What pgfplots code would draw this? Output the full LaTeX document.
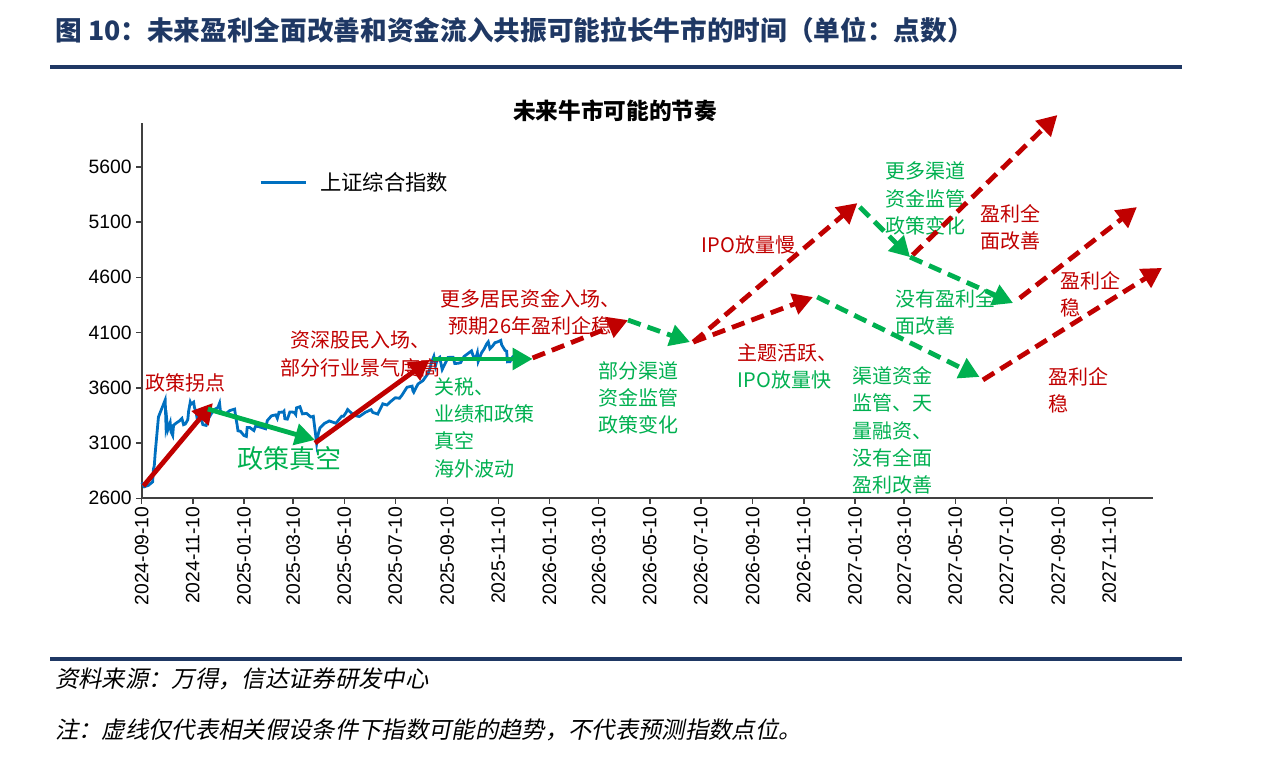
\documentclass[border=0pt]{standalone}
\usepackage{fontspec}
\setmainfont{Liberation Sans}
\newfontfamily\cjk{Noto Sans CJK SC}
\newfontfamily\cjkit{Noto Sans CJK SC}[FakeSlant=0.2]
\usepackage{pgfplots}
\pgfplotsset{compat=1.18}
\usetikzlibrary{arrows.meta}

\definecolor{zred}{RGB}{192,0,0}
\definecolor{zgreen}{RGB}{0,176,80}
\definecolor{zblue}{RGB}{0,112,192}
\definecolor{navy}{RGB}{31,56,100}

\newcommand\annot{\cjk\fontsize{15}{20.5}\selectfont}

\pgfplotsset{
  arr/.style={line width=3.6pt, -{Triangle[length=15pt,width=16pt]}, forget plot},
  dsh/.style={dash pattern=on 10pt off 5.5pt},
}

% Shanghai Composite, days since 2024-09-10
\pgfplotstableread{
d v
0 2744
3 2704
8 2717
13 2748
14 2863
15 2896
16 3000
17 3087
20 3336
28 3489
29 3258
30 3301
31 3217
34 3284
35 3202
37 3169
38 3261
42 3285
45 3300
48 3322
50 3266
52 3272
55 3310
56 3387
58 3470
59 3452
62 3470
63 3421
65 3379
66 3331
70 3346
73 3267
77 3259
80 3326
83 3364
87 3404
91 3422
93 3461
94 3391
98 3361
101 3368
105 3393
108 3400
111 3407
112 3352
114 3262
115 3211
118 3206
122 3169
125 3160
126 3241
129 3241
134 3213
136 3252
139 3250
148 3229
150 3303
155 3346
160 3355
162 3324
164 3379
169 3380
170 3388
171 3320
174 3316
177 3381
182 3379
184 3358
185 3419
189 3429
192 3364
197 3368
202 3336
205 3342
209 3097
210 3145
211 3186
213 3238
218 3276
224 3300
232 3279
239 3343
241 3342
244 3374
246 3403
251 3368
255 3348
260 3340
267 3377
274 3402
276 3377
282 3362
288 3455
293 3444
297 3473
303 3510
308 3505
311 3534
315 3582
317 3605
323 3615
324 3573
325 3560
330 3634
336 3665
339 3697
342 3728
344 3766
346 3826
349 3884
351 3800
353 3858
356 3876
359 3766
363 3827
366 3875
372 3876
374 3820
378 3822
381 3828
385 3883
394 3934
396 3889
399 3865
401 3916
402 3839
406 3917
409 3950
412 3996
414 4016
416 3954
419 3976
422 4008
426 4018
429 4029
430 3990
434 3939
436 3931
437 3835
440 3836
442 3865
444 3889
}\szdata

\begin{document}
\begin{tikzpicture}
\path[use as bounding box] (0,0) rectangle (960pt,574.5pt);

\begin{axis}[
  at={(106.3pt,200.8pt)}, anchor=south west,
  scale only axis, width=758.3pt, height=281.7pt,
  clip=false,
  xmin=0, xmax=1208, ymin=2600, ymax=6000,
  axis x line=bottom, axis y line=left,
  axis line style={black!75, line width=1.3pt, -},
  tick style={black!75, line width=1.1pt},
  tick align=outside, major tick length=4pt,
  xtick={0,61,122,181,242,303,365,426,487,546,607,668,730,791,852,911,972,1033,1095,1156},
  xticklabels={2024-09-10,2024-11-10,2025-01-10,2025-03-10,2025-05-10,2025-07-10,2025-09-10,2025-11-10,2026-01-10,2026-03-10,2026-05-10,2026-07-10,2026-09-10,2026-11-10,2027-01-10,2027-03-10,2027-05-10,2027-07-10,2027-09-10,2027-11-10},
  x tick label style={rotate=90, anchor=east, inner sep=2pt},
  ytick={2600,3100,3600,4100,4600,5100,5600},
  /pgf/number format/assume math mode=true,
  /pgf/number format/1000 sep={},
  ticklabel style={font=\fontsize{14.5}{17}\selectfont},
  legend style={at={(0.116,0.84)}, anchor=west, draw=none, fill=none,
    font=\cjk\fontsize{16}{18}\selectfont, inner sep=0pt},
  legend image code/.code={\draw[#1] (0pt,0pt) -- (34pt,0pt);},
]
\addplot[zblue, line width=2.1pt] table[x=d, y=v] {\szdata};
\addlegendentry{\hspace{7.5pt}上证综合指数}

% annotations
\node[anchor=west, text=zred, font=\annot, inner sep=0pt] at (axis cs:4,3643) {政策拐点};
\node[anchor=west, text=zgreen, font=\cjk\fontsize{19.5}{22}\selectfont, inner sep=0pt] at (axis cs:114,2956) {政策真空};
\node[align=center, text=zred, font=\annot] at (axis cs:261,3906) {资深股民入场、\\部分行业景气度高};
\node[align=center, text=zred, font=\annot] at (axis cs:464,4281) {更多居民资金入场、\\预期26年盈利企稳};
\node[anchor=west, align=left, text=zgreen, font=\annot, inner sep=0pt] at (axis cs:350,3241) {关税、\\业绩和政策\\真空\\海外波动};
\node[anchor=west, align=left, text=zgreen, font=\annot, inner sep=0pt] at (axis cs:545,3508) {部分渠道\\资金监管\\政策变化};
\node[anchor=west, text=zred, font=\annot, inner sep=0pt] at (axis cs:669,4892) {IPO放量慢};
\node[anchor=west, text=zred, font=\annot, inner sep=0pt] at (axis cs:712,3915) {主题活跃、};
\node[anchor=west, text=zgreen, font=\annot, inner sep=0pt] at (axis cs:712,3671) {IPO放量快};
\node[anchor=west, align=left, text=zgreen, font=\annot, inner sep=0pt] at (axis cs:888,5313) {更多渠道\\资金监管\\政策变化};
\node[anchor=west, align=left, text=zred, font=\annot, inner sep=0pt] at (axis cs:1002,5055) {盈利全\\面改善};
\node[anchor=west, align=left, text=zgreen, font=\annot, inner sep=0pt] at (axis cs:900,4286) {没有盈利全\\面改善};
\node[anchor=west, align=left, text=zred, font=\annot, inner sep=0pt] at (axis cs:1097,4444) {盈利企\\稳};
\node[anchor=west, align=left, text=zgreen, font=\annot, inner sep=0pt] at (axis cs:849,3214) {渠道资金\\监管、天\\量融资、\\没有全面\\盈利改善};
\node[anchor=west, align=left, text=zred, font=\annot, inner sep=0pt] at (axis cs:1083,3576) {盈利企\\稳};

% past path (solid)
\addplot[arr, zred] coordinates {(2,2711) (85,3462)};
\addplot[arr, zgreen] coordinates {(79,3408) (207,3128)};
\addplot[arr, zred] coordinates {(207,3100) (344,3852)};
\addplot[arr, zgreen] coordinates {(348,3861) (467,3861)};
% scenarios (dashed)
\addplot[arr, dsh, zred] coordinates {(467,3870) (581,4213)};
\addplot[arr, dsh, zgreen] coordinates {(581,4213) (655,4014)};
\addplot[arr, dsh, zred] coordinates {(659,4014) (855,5272)};
\addplot[arr, dsh, zred] coordinates {(659,4014) (802,4422)};
\addplot[arr, dsh, zgreen] coordinates {(858,5236) (918,4783)};
\addplot[arr, dsh, zred] coordinates {(921,4802) (1094,6069)};
\addplot[arr, dsh, zgreen] coordinates {(918,4783) (1041,4367)};
\addplot[arr, dsh, zred] coordinates {(1049,4412) (1189,5236)};
\addplot[arr, dsh, zgreen] coordinates {(807,4422) (1001,3698)};
\addplot[arr, dsh, zred] coordinates {(1005,3671) (1219,4685)};
\end{axis}

\begin{scope}[x=0.75pt, y=0.75pt]
\node[font=\cjk\bfseries\fontsize{17}{20}\selectfont] at (615,655) {未来牛市可能的节奏};
\node[anchor=west, text=navy, font=\cjk\bfseries\fontsize{20}{24}\selectfont, inner sep=0pt] at (55,736) {图 10：未来盈利全面改善和资金流入共振可能拉长牛市的时间（单位：点数）};
\draw[navy, line width=3pt] (50,699) -- (1182,699);
\draw[navy, line width=3pt] (50,107) -- (1182,107);
\node[anchor=west, font=\cjkit\fontsize{17.5}{20}\selectfont, inner sep=0pt] at (55,87) {资料来源：万得，信达证券研发中心};
\node[anchor=west, font=\cjkit\fontsize{17.5}{20}\selectfont, inner sep=0pt] at (55,36) {注：虚线仅代表相关假设条件下指数可能的趋势，不代表预测指数点位。};
\end{scope}
\end{tikzpicture}
\end{document}
